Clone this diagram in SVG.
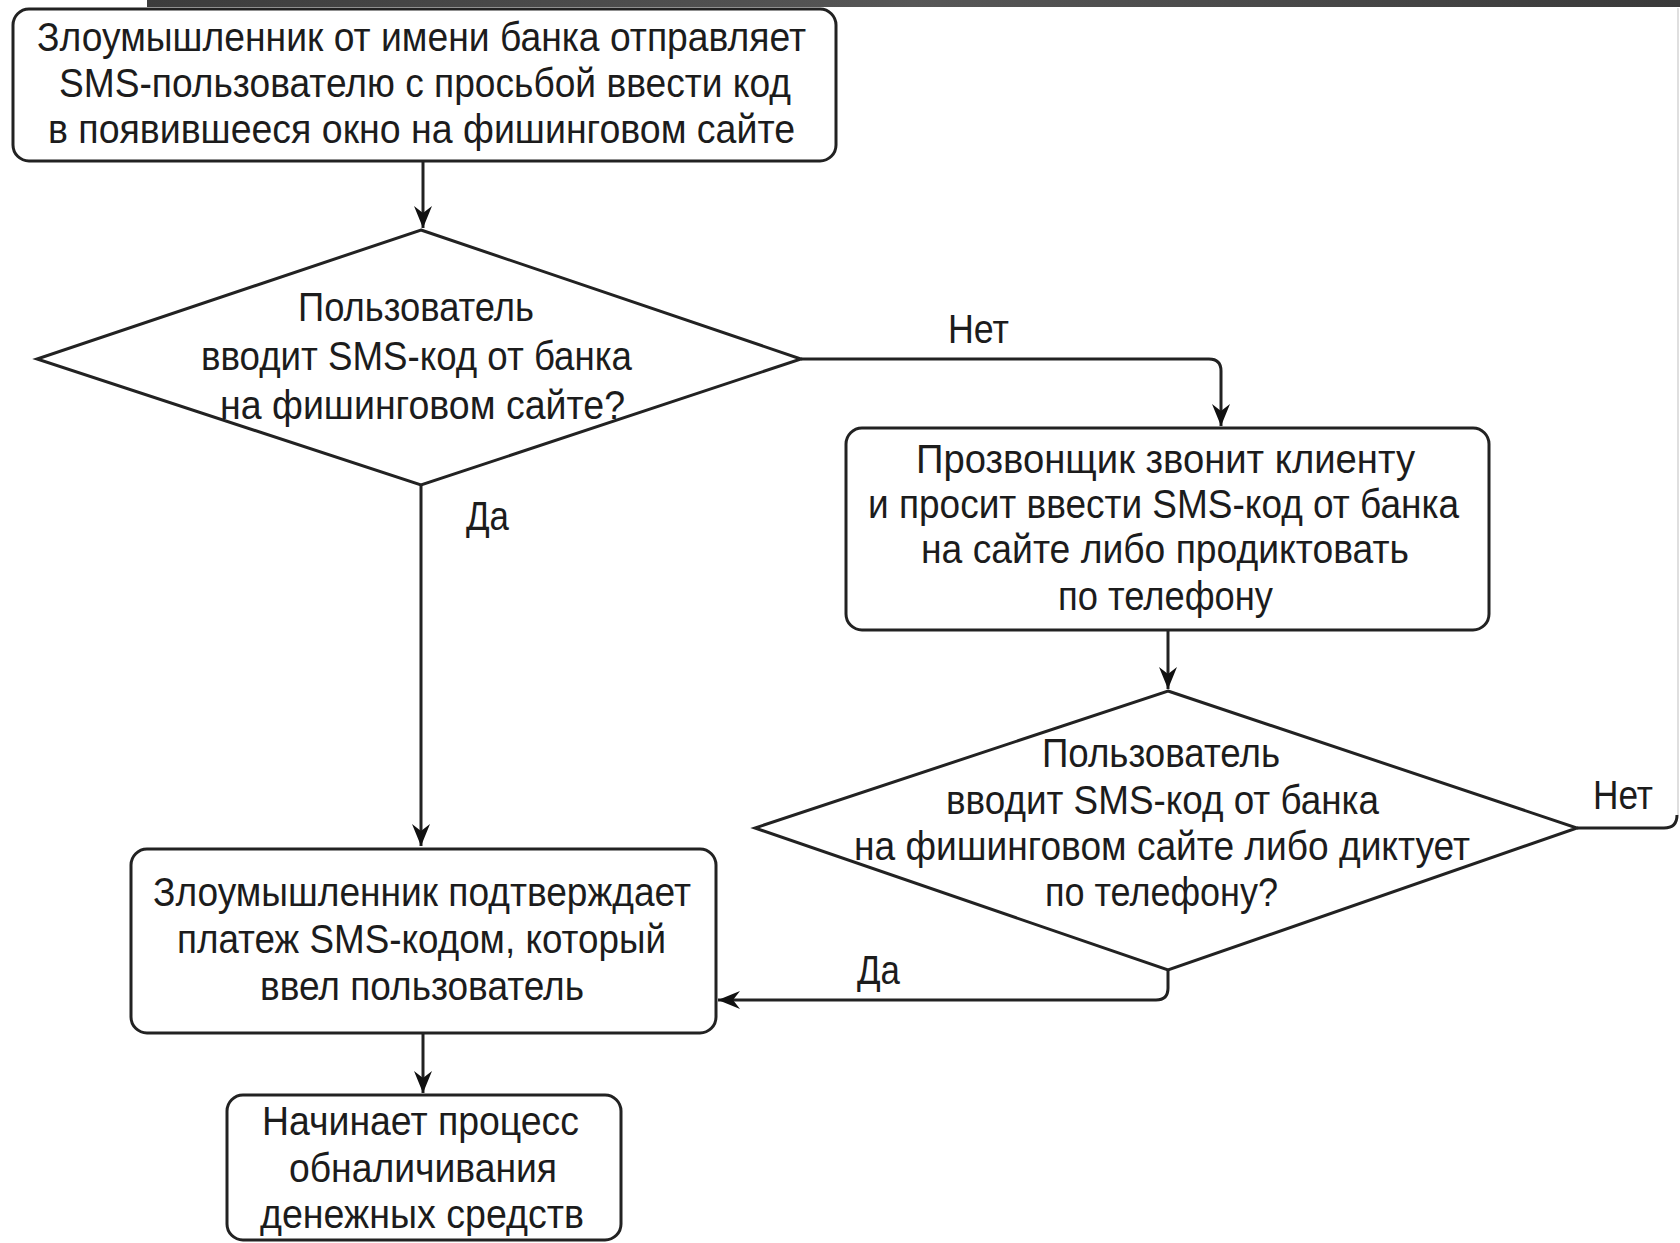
<svg xmlns="http://www.w3.org/2000/svg" width="1680" height="1243" viewBox="0 0 1680 1243">
<style>
.node{fill:#fff;stroke:#222;stroke-width:3}
.t{font-family:"Liberation Sans","DejaVu Sans",sans-serif;font-size:40px;fill:#1c1c1c}
.c{fill:none;stroke:#222;stroke-width:3}
</style>
<defs>
<linearGradient id="bar" x1="0" y1="0" x2="1" y2="0">
<stop offset="0" stop-color="#3c3c3c"/>
<stop offset="0.5" stop-color="#575757"/>
<stop offset="1" stop-color="#3a3a3a"/>
</linearGradient>
<marker id="arr" viewBox="-24 -11 26 22" refX="0" refY="0" markerWidth="26" markerHeight="22" markerUnits="userSpaceOnUse" orient="auto">
<path d="M0,0 L-22,-9 L-15,0 L-22,9 Z" fill="#111"/>
</marker>
</defs>
<rect x="0" y="0" width="1680" height="1243" fill="#fff"/>
<rect x="147" y="0" width="1533" height="7" fill="url(#bar)"/>

<g id="connectors">
<path class="c" d="M423,161 V228" marker-end="url(#arr)"/>
<path class="c" d="M801,359 H1209 Q1221,359 1221,371 V426" marker-end="url(#arr)"/>
<path class="c" d="M421,485 V846" marker-end="url(#arr)"/>
<path class="c" d="M1168,630 V689" marker-end="url(#arr)"/>
<path class="c" d="M1168,970 V988 Q1168,1000 1156,1000 H718" marker-end="url(#arr)"/>
<path class="c" d="M1577,828 H1664 Q1677,828 1677,815"/>
<path d="M1678,815 V8" fill="none" stroke="#d4d4d4" stroke-width="1.5"/>
<path class="c" d="M423,1034 V1093" marker-end="url(#arr)"/>
<text class="t" x="948" y="343" textLength="61" lengthAdjust="spacingAndGlyphs">Нет</text>
<text class="t" x="466" y="530" textLength="43" lengthAdjust="spacingAndGlyphs">Да</text>
<text class="t" x="1593" y="809" textLength="60" lengthAdjust="spacingAndGlyphs">Нет</text>
<text class="t" x="857" y="984" textLength="43" lengthAdjust="spacingAndGlyphs">Да</text>
</g>

<g id="n1">
<rect class="node" x="13" y="9" width="823" height="152" rx="16"/>
<text class="t" x="37" y="51" textLength="769" lengthAdjust="spacingAndGlyphs">Злоумышленник от имени банка отправляет</text>
<text class="t" x="59" y="97" textLength="732" lengthAdjust="spacingAndGlyphs">SMS-пользователю с просьбой ввести код</text>
<text class="t" x="48" y="143" textLength="747" lengthAdjust="spacingAndGlyphs">в появившееся окно на фишинговом сайте</text>
</g>

<g id="d1">
<polygon class="node" points="421,230 801,359 421,485 37,359"/>
<text class="t" x="298" y="321" textLength="236" lengthAdjust="spacingAndGlyphs">Пользователь</text>
<text class="t" x="201" y="370" textLength="431" lengthAdjust="spacingAndGlyphs">вводит SMS-код от банка</text>
<text class="t" x="220" y="419" textLength="405" lengthAdjust="spacingAndGlyphs">на фишинговом сайте?</text>
</g>

<g id="n2">
<rect class="node" x="846" y="428" width="643" height="202" rx="16"/>
<text class="t" x="916" y="473" textLength="499" lengthAdjust="spacingAndGlyphs">Прозвонщик звонит клиенту</text>
<text class="t" x="868" y="518" textLength="591" lengthAdjust="spacingAndGlyphs">и просит ввести SMS-код от банка</text>
<text class="t" x="921" y="563" textLength="488" lengthAdjust="spacingAndGlyphs">на сайте либо продиктовать</text>
<text class="t" x="1058" y="610" textLength="215" lengthAdjust="spacingAndGlyphs">по телефону</text>
</g>

<g id="d2">
<polygon class="node" points="1168,691 1577,828 1168,970 755,828"/>
<text class="t" x="1042" y="767" textLength="238" lengthAdjust="spacingAndGlyphs">Пользователь</text>
<text class="t" x="946" y="814" textLength="433" lengthAdjust="spacingAndGlyphs">вводит SMS-код от банка</text>
<text class="t" x="854" y="860" textLength="616" lengthAdjust="spacingAndGlyphs">на фишинговом сайте либо диктует</text>
<text class="t" x="1045" y="906" textLength="233" lengthAdjust="spacingAndGlyphs">по телефону?</text>
</g>

<g id="n3">
<rect class="node" x="131" y="849" width="585" height="184" rx="16"/>
<text class="t" x="153" y="906" textLength="538" lengthAdjust="spacingAndGlyphs">Злоумышленник подтверждает</text>
<text class="t" x="177" y="953" textLength="489" lengthAdjust="spacingAndGlyphs">платеж SMS-кодом, который</text>
<text class="t" x="260" y="1000" textLength="324" lengthAdjust="spacingAndGlyphs">ввел пользователь</text>
</g>

<g id="n4">
<rect class="node" x="227" y="1095" width="394" height="145" rx="16"/>
<text class="t" x="262" y="1135" textLength="317" lengthAdjust="spacingAndGlyphs">Начинает процесс</text>
<text class="t" x="289" y="1182" textLength="268" lengthAdjust="spacingAndGlyphs">обналичивания</text>
<text class="t" x="260" y="1228" textLength="324" lengthAdjust="spacingAndGlyphs">денежных средств</text>
</g>
</svg>
